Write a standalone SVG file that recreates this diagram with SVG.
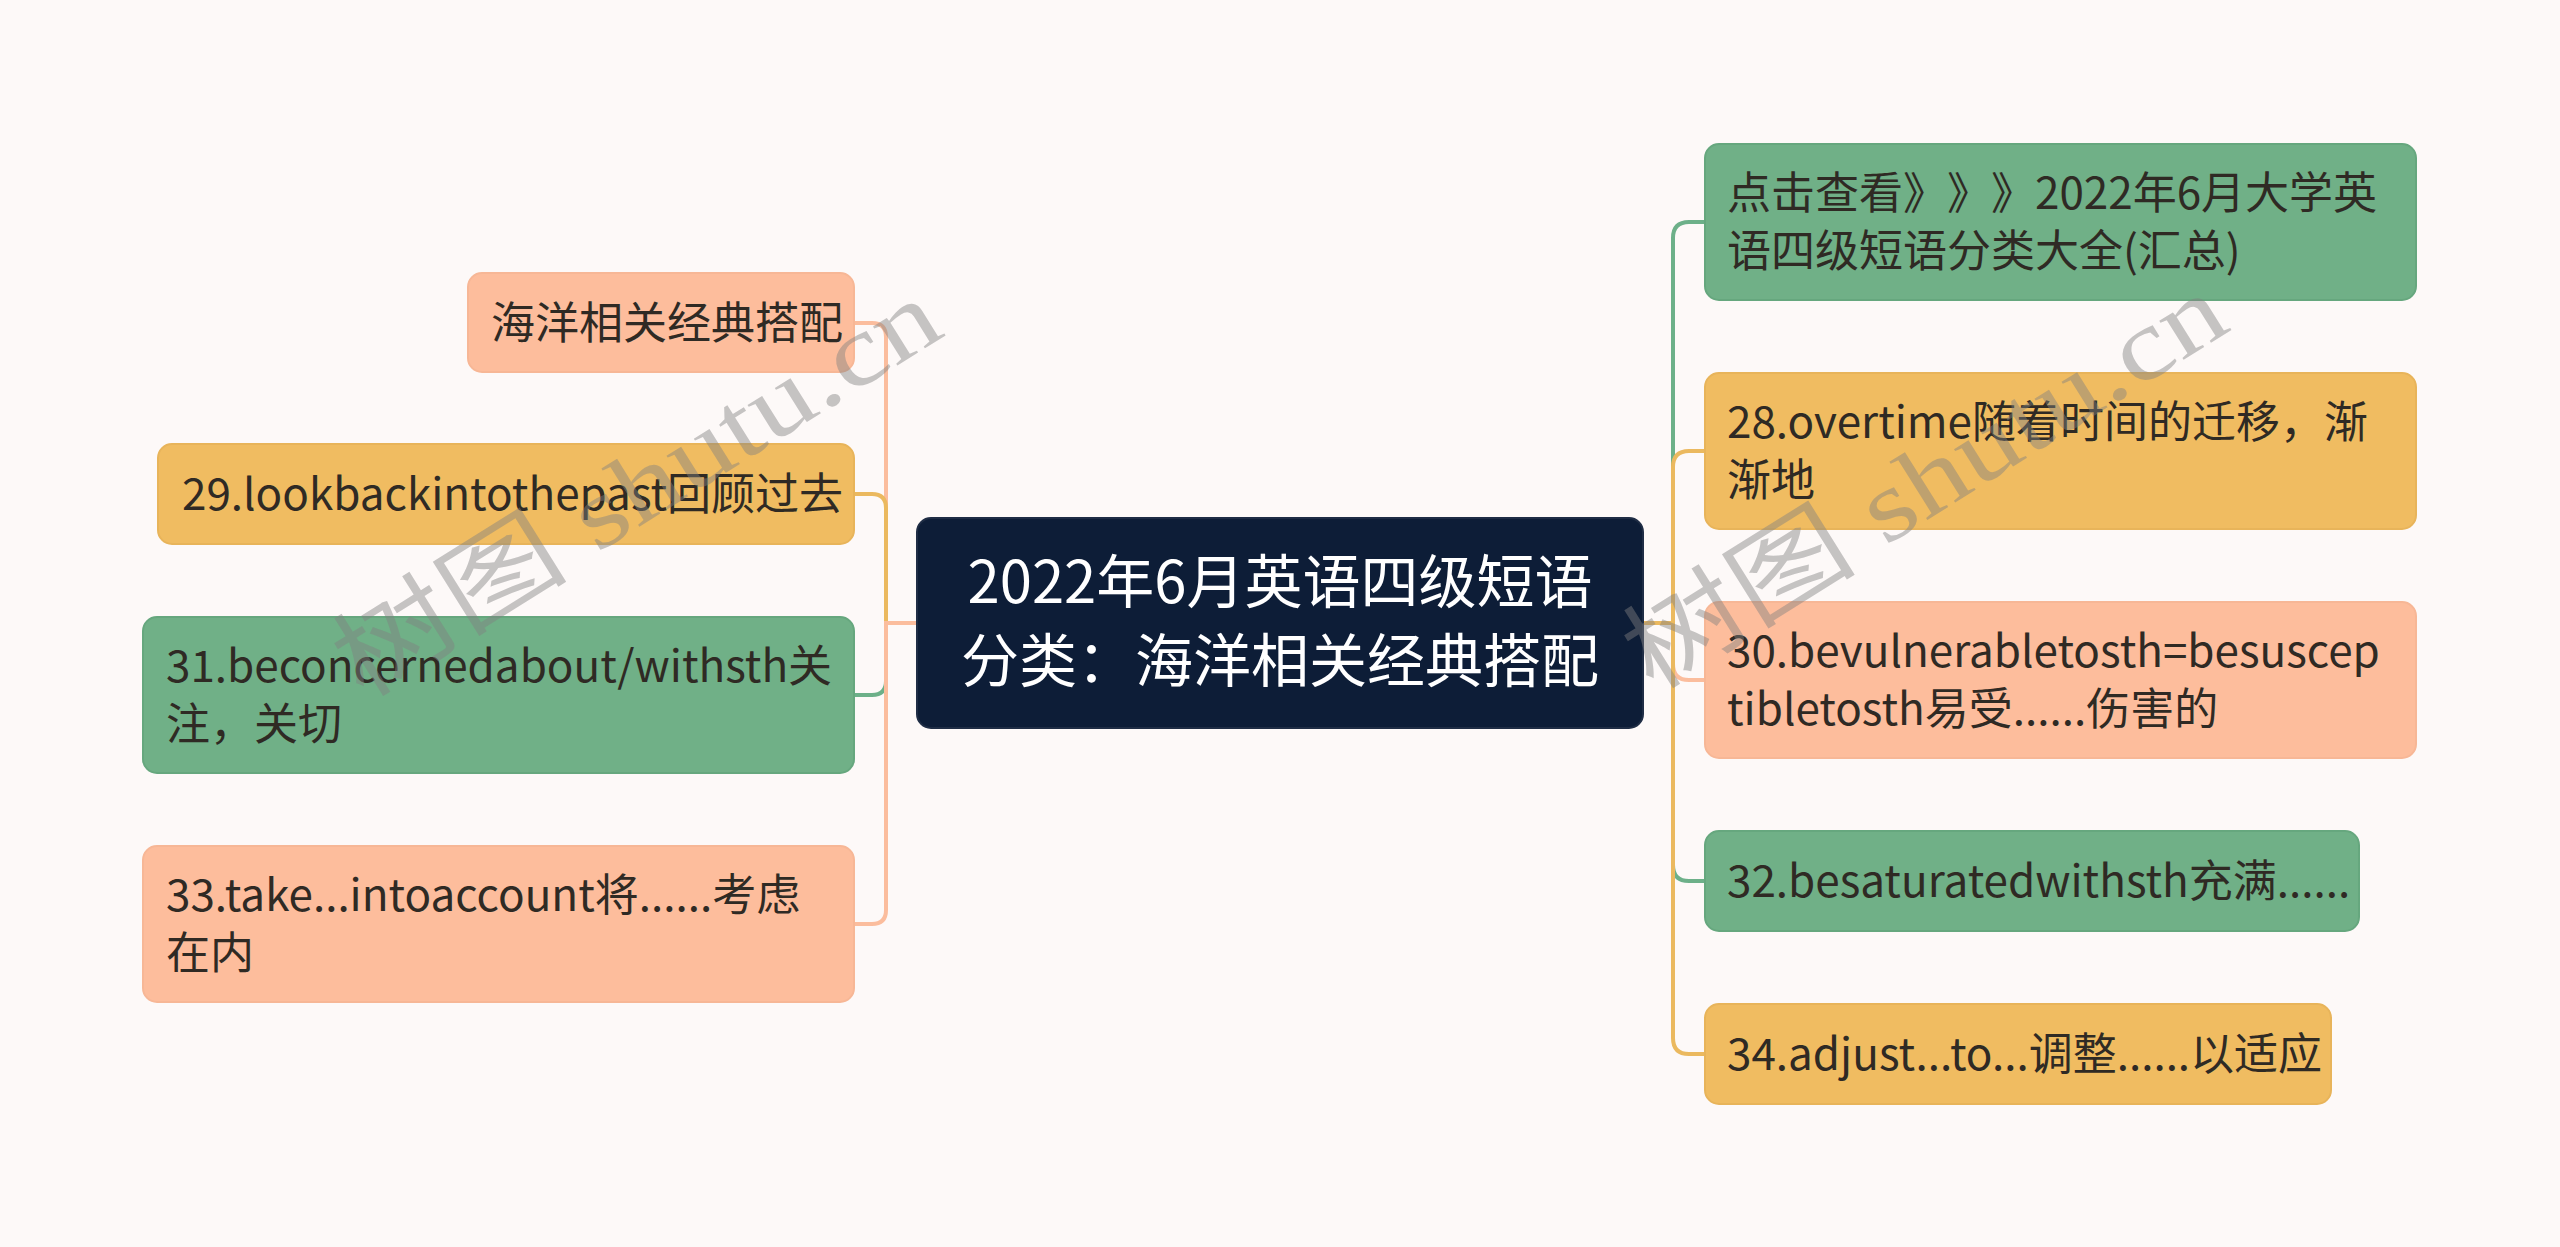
<svg xmlns="http://www.w3.org/2000/svg" width="2560" height="1247" viewBox="0 0 2560 1247">
<style>
text{text-spacing-trim:space-all}
.t{font-family:"Noto Sans CJK SC","Noto Sans",sans-serif;font-size:44px;fill:#2f2a24}
.c{font-family:"Noto Sans CJK SC","Noto Sans",sans-serif;font-size:58px;fill:#ffffff;text-anchor:middle}
.g{fill:#70b087;stroke:#66a77e;stroke-width:2}
.y{fill:#f0bc61;stroke:#e8b45a;stroke-width:2}
.s{fill:#fdbd9c;stroke:#f7b796;stroke-width:2}
.l{fill:none;stroke-width:4}
.lg{stroke:#6db089}
.ly{stroke:#ebb95f}
.ls{stroke:#fbbd9d}
.wm{font-family:"Liberation Serif","Noto Sans CJK SC",serif;font-size:100px;fill:#808080;fill-opacity:0.45}
</style>
<rect x="0" y="0" width="2560" height="1247" fill="#fdf9f8"/>
<g id="connectors">
<path class="l ls" d="M917 623 H886 V337 Q886 323 872 323 H854"/>
<path class="l ly" d="M917 623 H886 V508 Q886 494 872 494 H854"/>
<path class="l lg" d="M917 623 H886 V681 Q886 695 872 695 H854"/>
<path class="l ls" d="M917 623 H886 V910 Q886 924 872 924 H854"/>
<path class="l lg" d="M1643 623 H1673 V238 Q1673 222 1689 222 H1705"/>
<path class="l ly" d="M1643 623 H1673 V467 Q1673 451 1689 451 H1705"/>
<path class="l ls" d="M1643 623 H1673 V664 Q1673 680 1689 680 H1705"/>
<path class="l lg" d="M1643 623 H1673 V865 Q1673 881 1689 881 H1705"/>
<path class="l ly" d="M1643 623 H1673 V1038 Q1673 1054 1689 1054 H1705"/>
</g>
<g id="center">
<rect x="917" y="518" width="726" height="210" rx="14" fill="#0d1d37" stroke="#1f2d45" stroke-width="2"/>
<text class="c" x="1280" y="603">2022年6月英语四级短语</text>
<text class="c" x="1280" y="682">分类：海洋相关经典搭配</text>
</g>
<g id="n-haiyang">
<rect class="s" x="468" y="273" width="386" height="99" rx="14"/>
<text class="t" x="491" y="339">海洋相关经典搭配</text>
</g>
<g id="n-29">
<rect class="y" x="158" y="444" width="696" height="100" rx="14"/>
<text class="t" x="182" y="510">29.lookbackintothepast回顾过去</text>
</g>
<g id="n-31">
<rect class="g" x="143" y="617" width="711" height="156" rx="14"/>
<text class="t" x="166" y="682">31.beconcernedabout/withsth关</text>
<text class="t" x="166" y="740">注，关切</text>
</g>
<g id="n-33">
<rect class="s" x="143" y="846" width="711" height="156" rx="14"/>
<text class="t" x="166" y="911">33.take...intoaccount将......考虑</text>
<text class="t" x="166" y="969">在内</text>
</g>
<g id="n-top">
<rect class="g" x="1705" y="144" width="711" height="156" rx="14"/>
<text class="t" x="1727" y="209">点击查看》》》2022年6月大学英</text>
<text class="t" x="1727" y="267">语四级短语分类大全(汇总)</text>
</g>
<g id="n-28">
<rect class="y" x="1705" y="373" width="711" height="156" rx="14"/>
<text class="t" x="1727" y="438">28.overtime随着时间的迁移，渐</text>
<text class="t" x="1727" y="496">渐地</text>
</g>
<g id="n-30">
<rect class="s" x="1705" y="602" width="711" height="156" rx="14"/>
<text class="t" x="1727" y="667">30.bevulnerabletosth=besuscep</text>
<text class="t" x="1727" y="725">tibletosth易受......伤害的</text>
</g>
<g id="n-32">
<rect class="g" x="1705" y="831" width="654" height="100" rx="14"/>
<text class="t" x="1727" y="897">32.besaturatedwithsth充满......</text>
</g>
<g id="n-34">
<rect class="y" x="1705" y="1004" width="626" height="100" rx="14"/>
<text class="t" x="1727" y="1070">34.adjust...to...调整......以适应</text>
</g>
<g id="watermark">
<text class="wm" x="0" y="0" transform="translate(362 700) rotate(-32)" textLength="690" lengthAdjust="spacingAndGlyphs">树图 shutu.cn</text>
<text class="wm" x="0" y="0" transform="translate(1652 692) rotate(-32)" textLength="685" lengthAdjust="spacingAndGlyphs">树图 shutu.cn</text>
</g>
</svg>
